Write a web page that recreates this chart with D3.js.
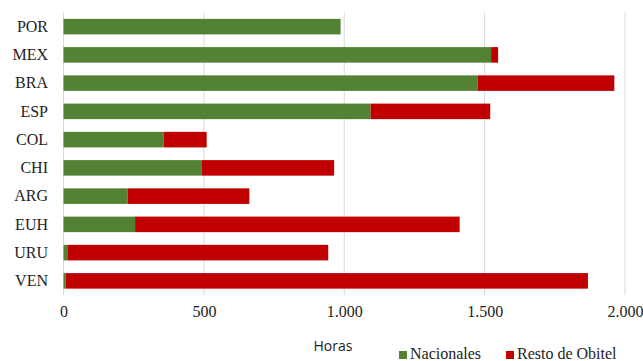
<!DOCTYPE html>
<html>
<head>
<meta charset="utf-8">
<script src="https://cdn.jsdelivr.net/npm/d3@7"></script>
<style>
  body { margin: 0; background: #fff; }
  .serif { font-family: "Liberation Serif", "DejaVu Serif", Tinos, "Times New Roman", Times, serif; }
</style>
</head>
<body>
<script>
var w = 643;
var h = 361;

var paises = ["POR", "MEX", "BRA", "ESP", "COL", "CHI", "ARG", "EUH", "URU", "VEN"];
var nacionales = [987, 1523, 1475, 1094, 357, 493, 229, 255, 16, 8];
var restoObitel = [0, 25, 487, 426, 153, 471, 433, 1156, 927, 1860];
var xTicks = [0, 500, 1000, 1500, 2000];
var series = ["Nacionales", "Resto de Obitel"];
var colores = ["#548235", "#c00000"];

var svg = d3.select("body").append("svg").attr("width", w).attr("height", h);

var xScale = d3.scaleLinear()
    .domain([0, 2000])
    .range([63.5, 625]);

var yScale = d3.scaleBand()
    .domain(paises)
    .range([12.5, 295])
    .paddingInner(0.45)
    .paddingOuter(0.225);

var es = d3.formatLocale({ decimal: ",", thousands: ".", grouping: [3], currency: ["", "€"] });

// gridlines
svg.append("g")
    .selectAll("line")
    .data(xTicks).enter()
    .append("line")
    .attr("x1", d => xScale(d))
    .attr("x2", d => xScale(d))
    .attr("y1", 12.5)
    .attr("y2", 295)
    .attr("stroke", "#d9d9d9")
    .attr("stroke-width", 1);

// x axis labels
var xAxis = d3.axisBottom(xScale)
    .tickValues(xTicks)
    .tickSize(0)
    .tickPadding(0)
    .tickFormat(es.format(",d"));

svg.append("g")
    .attr("transform", "translate(0,306)")
    .call(xAxis)
    .attr("font-family", null)
    .attr("font-size", null)
    .call(g => g.select(".domain").remove())
    .selectAll("text")
    .attr("class", "serif")
    .style("font-size", "16px")
    .attr("fill", "#222");

// y axis labels
var yAxis = d3.axisLeft(yScale).tickSize(0).tickPadding(0);
svg.append("g")
    .attr("transform", "translate(48,0)")
    .call(yAxis)
    .attr("font-family", null)
    .attr("font-size", null)
    .call(g => g.select(".domain").remove())
    .selectAll("text")
    .attr("class", "serif")
    .style("font-size", "16px")
    .attr("fill", "#222");

// stacked bars
var stack = paises.map((p, i) => ({ pais: p, vals: [nacionales[i], restoObitel[i]] }));

stack.forEach(d => {
    var x0 = 0;
    d.vals.forEach((v, k) => {
        if (v > 0) {
            svg.append("rect")
                .attr("x", xScale(x0))
                .attr("y", yScale(d.pais))
                .attr("width", xScale(x0 + v) - xScale(x0))
                .attr("height", yScale.bandwidth())
                .attr("fill", colores[k]);
        }
        x0 += v;
    });
});

// axis title
svg.append("text")
    .attr("x", 333)
    .attr("y", 351)
    .attr("text-anchor", "middle")
    .style("font-family", "'Open Sans', sans-serif")
    .style("font-size", "14px")
    .attr("fill", "#222")
    .text("Horas");

// legend
var legendX = [399, 506];
var leg = svg.append("g").selectAll("g")
    .data(series).enter()
    .append("g")
    .attr("transform", (d, i) => "translate(" + legendX[i] + ",351)");

leg.append("rect")
    .attr("width", 8)
    .attr("height", 8)
    .attr("fill", (d, i) => colores[i]);

leg.append("text")
    .attr("class", "serif")
    .attr("x", 11)
    .attr("y", 8)
    .style("font-size", "16px")
    .attr("fill", "#222")
    .text(d => d);
</script>
</body>
</html>
